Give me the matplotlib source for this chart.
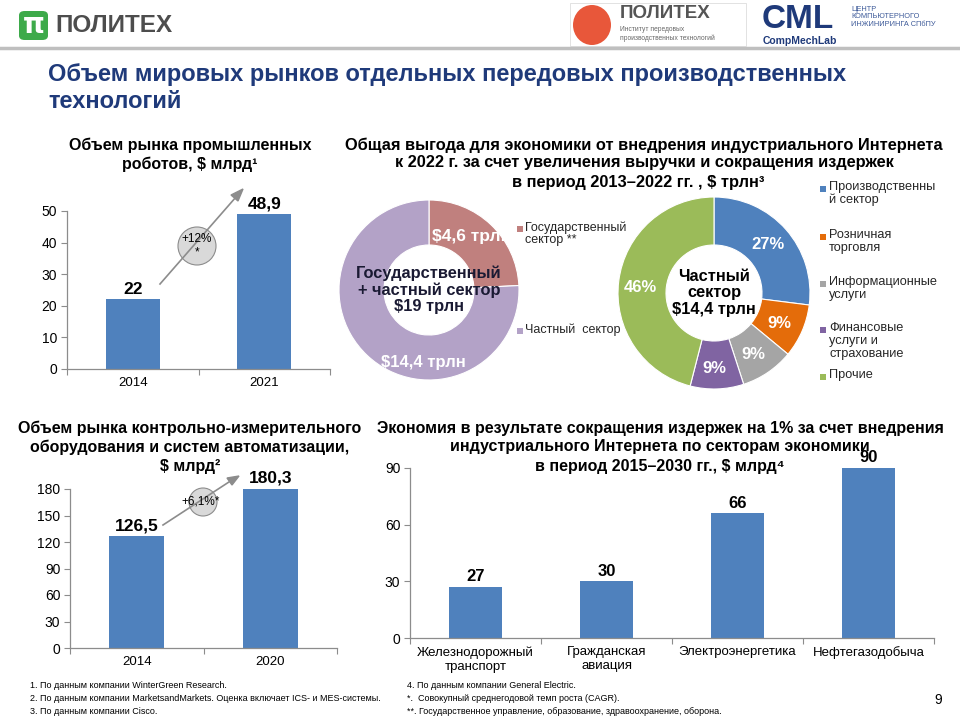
import matplotlib
matplotlib.use("Agg")
import matplotlib.pyplot as plt
from matplotlib.patches import Ellipse, Rectangle, FancyBboxPatch

plt.rcParams['font.family'] = ['Liberation Sans', 'DejaVu Sans']
NARROW = ['Liberation Sans Narrow', 'Liberation Sans', 'DejaVu Sans']

# ---------------- data ----------------
robots_years = ['2014', '2021']
robots_values = [22, 48.9]
robots_labels = ['22', '48,9']

auto_years = ['2014', '2020']
auto_values = [126.5, 180.3]
auto_labels = ['126,5', '180,3']

sector_names = ['Железнодорожный\nтранспорт', 'Гражданская\nавиация',
                'Электроэнергетика', 'Нефтегазодобыча']
sector_values = [27, 30, 66, 90]

total_parts = ['Государственный\nсектор **', 'Частный  сектор']
total_values = [4.6, 14.4]
total_labels = ['$4,6 трлн', '$14,4 трлн']

private_parts = ['Производственны\nй сектор', 'Розничная\nторговля',
                 'Информационные\nуслуги', 'Финансовые\nуслуги и\nстрахование', 'Прочие']
private_values = [27, 9, 9, 9, 46]

BAR = '#4F81BD'
AXC = '#8C8C8C'
TITLE_BLUE = '#1F3A7A'

W, H = 960, 720
fig = plt.figure(figsize=(9.6, 7.2), dpi=100)

def fx(x):
    return x / W

def fy(y):
    return 1 - y / H

def box(x0, y0, x1, y1):
    return [fx(x0), fy(y1), (x1 - x0) / W, (y1 - y0) / H]

def T(x, y, s, **kw):
    return fig.text(fx(x), fy(y), s, **kw)

def lines(x, ys, texts, **kw):
    for y, s in zip(ys, texts):
        T(x, y, s, **kw)

# ---------------- header ----------------
fig.add_artist(plt.Line2D([0, 1], [fy(48), fy(48)], color='#BFBFBF', lw=2.5))
fig.add_artist(FancyBboxPatch((fx(19), fy(40)), 29 / W, 29 / H,
                              boxstyle='round,pad=0,rounding_size=0.006',
                              fc='#3DAA4A', ec='none', transform=fig.transFigure))
T(33.5, 25, 'π', color='white', fontsize=20, fontweight='bold', ha='center', va='center',
  family=['DejaVu Sans'])
T(55, 25, 'ПОЛИТЕХ', color='#4D4D4D', fontsize=17.5, fontweight='bold', va='center')

fig.add_artist(Rectangle((fx(570), fy(46)), 176 / W, 43 / H, fc='white', ec='#DDDDDD',
                         lw=0.6, transform=fig.transFigure))
fig.add_artist(Ellipse((fx(592), fy(25)), 38 / W, 40 / H, fc='#E8573A', ec='none',
                       transform=fig.transFigure))
T(620, 13, 'ПОЛИТЕХ', color='#555555', fontsize=13.5, fontweight='bold', va='center')
T(620, 34, 'Институт передовых\nпроизводственных технологий', color='#666666',
  fontsize=4.8, va='center', linespacing=1.3)
T(762, 19, 'CML', color=TITLE_BLUE, fontsize=24, fontweight='bold', va='center')
T(851, 17, 'ЦЕНТР\nКОМПЬЮТЕРНОГО\nИНЖИНИРИНГА СПбПУ', color='#3D5A99', fontsize=5.3,
  va='center', linespacing=1.1)
T(763, 41, 'CompMechLab', color=TITLE_BLUE, fontsize=7.5, fontweight='bold', va='center')

lines(48, [75, 102], ['Объем мировых рынков отдельных передовых производственных', 'технологий'],
      color=TITLE_BLUE, fontsize=17, fontweight='bold', va='center')

# ---------------- bar helper ----------------
def bar_chart(rect, cats, vals, labels, ymax, yticks, label_fs, bar_w=0.41, xt_fs=9.5):
    ax = fig.add_axes(rect)
    x = list(range(len(cats)))
    ax.bar(x, vals, width=bar_w, color=BAR, zorder=2)
    ax.set_xlim(-0.5, len(cats) - 0.5)
    ax.set_ylim(0, ymax)
    ax.set_yticks(yticks)
    ax.set_yticklabels([str(t) for t in yticks], family=NARROW, fontsize=10)
    ax.set_xticks([i + 0.5 for i in range(-1, len(cats))], minor=False)
    ax.set_xticklabels([])
    ax.set_xticks(x, minor=True)
    ax.set_xticklabels(cats, minor=True, family=NARROW, fontsize=xt_fs)
    ax.tick_params(axis='x', which='minor', length=0, pad=6)
    ax.tick_params(axis='x', which='major', length=4, color=AXC, direction='out')
    ax.tick_params(axis='y', length=4, color=AXC, direction='out', pad=3)
    for s in ['top', 'right']:
        ax.spines[s].set_visible(False)
    for s in ['left', 'bottom']:
        ax.spines[s].set_color(AXC)
        ax.spines[s].set_linewidth(0.9)
    for xi, v, lab in zip(x, vals, labels):
        ax.annotate(lab, (xi, v), xytext=(0, 2), textcoords='offset points',
                    ha='center', va='bottom', fontsize=label_fs, fontweight='bold',
                    clip_on=False)
    ax.patch.set_alpha(0)
    return ax

# ---------------- chart 1: robots ----------------
lines(190, [145, 164], ['Объем рынка промышленных', 'роботов, $ млрд¹'],
      fontsize=11.5, fontweight='bold', ha='center', va='center')
ax1 = bar_chart(box(67, 211, 330, 369), robots_years, robots_values, robots_labels,
                50, [0, 10, 20, 30, 40, 50], 12.5)
fig.add_artist(plt.Line2D([fx(160), fx(236)], [fy(284), fy(197)], color='#8C8C8C', lw=1.2))
fig.add_artist(plt.Polygon([[fx(243), fy(189)], [fx(231), fy(195)], [fx(238), fy(201)]],
                           closed=True, color='#8C8C8C', transform=fig.transFigure))
fig.add_artist(Ellipse((fx(197), fy(246)), 38 / W, 38 / H, fc='#D9D9D9', ec='#8C8C8C',
                       lw=0.8, transform=fig.transFigure))
T(197, 246, '+12%\n*', fontsize=8.5, ha='center', va='center', linespacing=1.2)

# ---------------- chart 2: automation ----------------
lines(190, [428, 447, 466], ['Объем рынка контрольно-измерительного',
                             'оборудования и систем автоматизации,', '$ млрд²'],
      fontsize=11.5, fontweight='bold', ha='center', va='center')
ax2 = bar_chart(box(70, 489, 337, 648), auto_years, auto_values, auto_labels,
                180, [0, 30, 60, 90, 120, 150, 180], 12.5)
fig.add_artist(plt.Line2D([fx(163), fx(232)], [fy(525), fy(480)], color='#8C8C8C', lw=1.2))
fig.add_artist(plt.Polygon([[fx(239), fy(476)], [fx(227), fy(478)], [fx(232), fy(485)]],
                           closed=True, color='#8C8C8C', transform=fig.transFigure))
fig.add_artist(Ellipse((fx(203), fy(502)), 28 / W, 28 / H, fc='#D9D9D9', ec='#8C8C8C',
                       lw=0.8, transform=fig.transFigure))
T(201, 502, '+6,1%*', fontsize=8.5, ha='center', va='center')

# ---------------- chart 3: sectors ----------------
lines(660, [428, 447, 467], ['Экономия в результате сокращения издержек на 1% за счет внедрения',
                             'индустриального Интернета по секторам экономики',
                             'в период 2015–2030 гг., $ млрд⁴'],
      fontsize=11.5, fontweight='bold', ha='center', va='center')
ax3 = bar_chart(box(410, 468, 934, 638), sector_names, sector_values,
                [str(v) for v in sector_values], 90, [0, 30, 60, 90], 12, bar_w=0.41, xt_fs=9.5)

# ---------------- donut titles ----------------
lines(644, [145, 163], ['Общая выгода для экономики от внедрения индустриального Интернета',
                        'к 2022 г. за счет увеличения выручки и сокращения издержек'],
      fontsize=11.8, fontweight='bold', ha='center', va='center')
T(638, 182, 'в период 2013–2022 гг. , $ трлн³', fontsize=11.8, fontweight='bold',
  ha='center', va='center')

# ---------------- donut 1 ----------------
total_colors = ['#C0807E', '#B3A2C7']
axd1 = fig.add_axes(box(339, 200, 519, 380))
w1, _ = axd1.pie(total_values, colors=total_colors, startangle=90, counterclock=False,
                 radius=1, wedgeprops=dict(width=0.5, edgecolor='white', linewidth=0.8))
axd1.set_xlim(-1, 1); axd1.set_ylim(-1, 1)
axd1.set_aspect('equal')
axd1.axis('off')
axd1.text(0.47, 0.6, total_labels[0], color='white', fontsize=12.5, fontweight='bold',
          ha='center', va='center')
axd1.text(-0.06, -0.8, total_labels[1], color='white', fontsize=12, fontweight='bold',
          ha='center', va='center')
axd1.text(0, 0.0, 'Государственный\n+ частный сектор\n$19 трлн', color='#1A1A33',
          fontsize=11.8, fontweight='bold', ha='center', va='center', linespacing=1.1)

leg1_y = [229, 331]
for c, lab, y in zip(total_colors, total_parts, leg1_y):
    fig.add_artist(Rectangle((fx(517), fy(y + 3)), 6 / W, 6 / H, fc=c, ec='none',
                             transform=fig.transFigure))
    T(525, y - 8, lab, fontsize=9, va='top', linespacing=1.1, color='#262626')

# ---------------- donut 2 ----------------
private_colors = ['#4F81BD', '#E46C0A', '#A5A5A5', '#8064A2', '#9BBB59']
axd2 = fig.add_axes(box(618, 197, 810, 389))
w2, _ = axd2.pie(private_values, colors=private_colors, startangle=90, counterclock=False,
                 radius=1, wedgeprops=dict(width=0.5, edgecolor='white', linewidth=0.8))
axd2.set_xlim(-1, 1); axd2.set_ylim(-1, 1)
axd2.set_aspect('equal')
axd2.axis('off')
pct_pos = [(0.56, 0.5), (0.68, -0.32), (0.41, -0.64), (0.0, -0.79), (-0.77, 0.06)]
for v, (px, py) in zip(private_values, pct_pos):
    axd2.text(px, py, f'{v}%', color='white', fontsize=12, fontweight='bold',
              ha='center', va='center')
axd2.text(0, 0.0, 'Частный\nсектор\n$14,4 трлн', color='black', fontsize=11.8,
          fontweight='bold', ha='center', va='center', linespacing=1.1)

leg2_y = [189, 237, 284, 330, 377]
for c, lab, y in zip(private_colors, private_parts, leg2_y):
    fig.add_artist(Rectangle((fx(820), fy(y + 3)), 6 / W, 6 / H, fc=c, ec='none',
                             transform=fig.transFigure))
    T(829, y - 8, lab, fontsize=9.2, va='top', linespacing=1.1, color='#262626')

# ---------------- footnotes ----------------
foot_left = ['1. По данным компании WinterGreen Research.',
             '2. По данным компании MarketsandMarkets. Оценка включает ICS- и MES-системы.',
             '3. По данным компании Cisco.']
foot_right = ['4. По данным компании General Electric.',
              '*.  Совокупный среднегодовой темп роста (CAGR).',
              '**. Государственное управление, образование, здравоохранение, оборона.']
for i, s in enumerate(foot_left):
    T(30, 686 + 12.5 * i, s, fontsize=6.5, family=NARROW, va='center')
for i, s in enumerate(foot_right):
    T(407, 686 + 12.5 * i, s, fontsize=6.5, family=NARROW, va='center')
T(938, 700, '9', fontsize=10, family=NARROW, ha='center', va='center')

fig.savefig('out.png', dpi=100, facecolor='white')
